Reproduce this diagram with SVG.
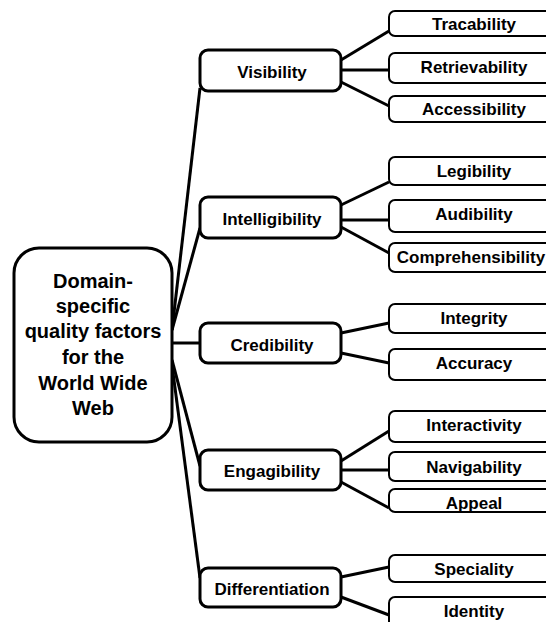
<svg xmlns="http://www.w3.org/2000/svg" width="546" height="622" viewBox="0 0 546 622">
<style>
.root{fill:#fff;stroke:#000;stroke-width:3}
.l1{fill:#fff;stroke:#000;stroke-width:3}
.leaf{fill:#fff;stroke:#000;stroke-width:2}
.t{font-family:"Liberation Sans",Arial,sans-serif;font-weight:bold;font-size:17px;text-anchor:middle;dominant-baseline:central;fill:#000}
.rt{font-size:20px}
.c{fill:none;stroke:#000;stroke-width:3}
</style>
<rect width="546" height="622" fill="#fff"/>
<g id="connectors">
<path class="c" d="M172,330 L200,88"/>
<path class="c" d="M172,330 L200,228"/>
<path class="c" d="M172,343 L200,343"/>
<path class="c" d="M172,360 L200,466"/>
<path class="c" d="M172,365 L200,578"/>
<path class="c" d="M341,60 L389,31"/>
<path class="c" d="M341,70 L389,70"/>
<path class="c" d="M341,82 L389,106"/>
<path class="c" d="M341,205 L389,182"/>
<path class="c" d="M341,220 L389,220"/>
<path class="c" d="M341,227 L389,253"/>
<path class="c" d="M341,333 L389,323"/>
<path class="c" d="M341,353 L389,363"/>
<path class="c" d="M341,461 L389,431"/>
<path class="c" d="M341,470 L389,470"/>
<path class="c" d="M341,482 L389,508"/>
<path class="c" d="M341,577 L389,567"/>
<path class="c" d="M341,597 L389,615"/>
</g>
<g id="root">
<rect class="root" x="14" y="248" width="158" height="194" rx="25"/>
<text class="t rt" x="93" y="281">Domain-</text>
<text class="t rt" x="93" y="306">specific</text>
<text class="t rt" x="93" y="331">quality factors</text>
<text class="t rt" x="93" y="357">for the</text>
<text class="t rt" x="93" y="383">World Wide</text>
<text class="t rt" x="93" y="408">Web</text>
</g>
<g id="visibility">
<rect class="l1" x="200" y="50" width="141" height="41" rx="8"/>
<text class="t" x="272" y="72">Visibility</text>
</g>
<g id="intelligibility">
<rect class="l1" x="200" y="197" width="141" height="41" rx="8"/>
<text class="t" x="272" y="219">Intelligibility</text>
</g>
<g id="credibility">
<rect class="l1" x="200" y="323" width="141" height="40" rx="8"/>
<text class="t" x="272" y="345">Credibility</text>
</g>
<g id="engagibility">
<rect class="l1" x="200" y="450" width="141" height="40" rx="8"/>
<text class="t" x="272" y="471">Engagibility</text>
</g>
<g id="differentiation">
<rect class="l1" x="200" y="568" width="141" height="39" rx="8"/>
<text class="t" x="272" y="589">Differentiation</text>
</g>
<g id="tracability">
<rect class="leaf" x="389" y="11" width="172" height="25" rx="6"/>
<text class="t" x="474" y="24">Tracability</text>
</g>
<g id="retrievability">
<rect class="leaf" x="389" y="53" width="172" height="30" rx="6"/>
<text class="t" x="474" y="67">Retrievability</text>
</g>
<g id="accessibility">
<rect class="leaf" x="389" y="96" width="172" height="26" rx="6"/>
<text class="t" x="474" y="109">Accessibility</text>
</g>
<g id="legibility">
<rect class="leaf" x="389" y="157" width="172" height="28" rx="6"/>
<text class="t" x="474" y="171">Legibility</text>
</g>
<g id="audibility">
<rect class="leaf" x="389" y="200" width="172" height="32" rx="6"/>
<text class="t" x="474" y="214">Audibility</text>
</g>
<g id="comprehensibility">
<rect class="leaf" x="389" y="243" width="172" height="29" rx="6"/>
<text class="t" x="471" y="257">Comprehensibility</text>
</g>
<g id="integrity">
<rect class="leaf" x="389" y="304" width="172" height="29" rx="6"/>
<text class="t" x="474" y="318">Integrity</text>
</g>
<g id="accuracy">
<rect class="leaf" x="389" y="349" width="172" height="31" rx="6"/>
<text class="t" x="474" y="363">Accuracy</text>
</g>
<g id="interactivity">
<rect class="leaf" x="389" y="411" width="172" height="31" rx="6"/>
<text class="t" x="474" y="425">Interactivity</text>
</g>
<g id="navigability">
<rect class="leaf" x="389" y="452" width="172" height="29" rx="6"/>
<text class="t" x="474" y="467">Navigability</text>
</g>
<g id="appeal">
<rect class="leaf" x="389" y="489" width="172" height="23" rx="6"/>
<text class="t" x="474" y="503">Appeal</text>
</g>
<g id="speciality">
<rect class="leaf" x="389" y="555" width="172" height="27" rx="6"/>
<text class="t" x="474" y="569">Speciality</text>
</g>
<g id="identity">
<rect class="leaf" x="389" y="597" width="172" height="35" rx="6"/>
<text class="t" x="474" y="611">Identity</text>
</g>
</svg>
